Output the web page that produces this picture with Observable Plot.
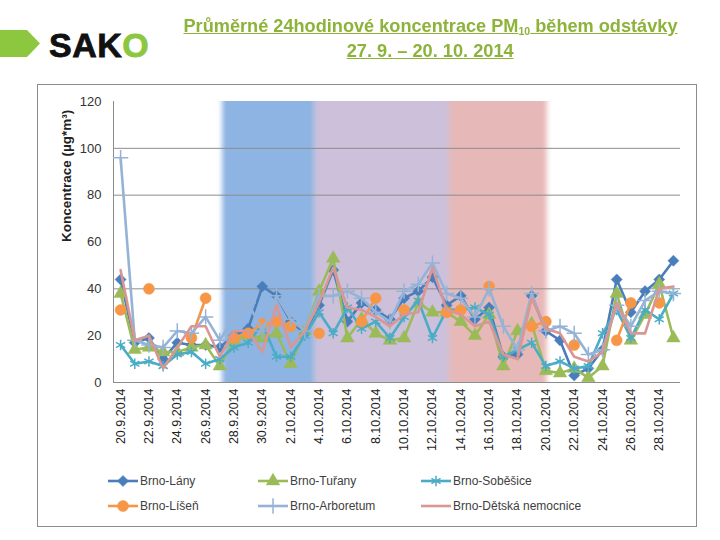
<!DOCTYPE html>
<html><head><meta charset="utf-8">
<script src="https://cdn.jsdelivr.net/npm/d3@7"></script>
<script src="https://cdn.jsdelivr.net/npm/@observablehq/plot@0.6"></script>
<style>
body{margin:0;width:720px;height:540px;position:relative;background:#fff;font-family:"Liberation Sans",Arial,sans-serif;overflow:hidden}
#logo{position:absolute;left:0;top:0}
#title{position:absolute;left:150px;width:560px;top:13px;text-align:center;color:#8db33a;font-family:"Liberation Sans Narrow","Arial Narrow","Liberation Sans",sans-serif;font-size:19px;font-weight:bold;line-height:25px}
#title .ln{display:inline-block;white-space:nowrap;text-decoration:underline;transform-origin:center}
#title sub{font-size:11px;vertical-align:-3px;line-height:0}
#frame{position:absolute;left:37px;top:84px;width:658px;height:441px;border:1px solid #8c8c8c}
#chart{position:absolute;left:0;top:0}
#legend{position:absolute;left:0;top:0;width:658px;height:441px;pointer-events:none}
.li{position:absolute;display:flex;align-items:center;font-size:12px;color:#404040;white-space:nowrap}
.li svg{display:block;margin-right:1px}
</style></head>
<body>
<svg id="logo" width="170" height="80">
  <polygon points="0,30 27,30 40,43.5 27,57 0,57" fill="#8dc63f"/>
  <text x="49" y="57" font-family="Liberation Sans, Arial, sans-serif" font-weight="bold" font-size="34" letter-spacing="0.5" fill="#111" stroke="#111" stroke-width="0.8">SAK<tspan fill="#8dc63f" stroke="#8dc63f">O</tspan></text>
</svg>
<div id="title"><span class="ln" id="t1">Průměrné 24hodinové koncentrace PM<sub>10</sub> během odstávky </span><br><span class="ln" id="t2">27. 9. – 20. 10. 2014</span></div>
<div id="frame"><div id="chart"></div><div id="legend"></div></div>
<script>
const dates = ["20.9.2014","21.9.2014","22.9.2014","23.9.2014","24.9.2014","25.9.2014","26.9.2014","27.9.2014","28.9.2014","29.9.2014","30.9.2014",
  "1.10.2014","2.10.2014","3.10.2014","4.10.2014","5.10.2014","6.10.2014","7.10.2014","8.10.2014","9.10.2014","10.10.2014",
  "11.10.2014","12.10.2014","13.10.2014","14.10.2014","15.10.2014","16.10.2014","17.10.2014","18.10.2014","19.10.2014","20.10.2014",
  "21.10.2014","22.10.2014","23.10.2014","24.10.2014","25.10.2014","26.10.2014","27.10.2014","28.10.2014","29.10.2014"];

const seriesNames = ["Brno-Lány","Brno-Tuřany","Brno-Soběšice","Brno-Líšeň","Brno-Arboretum","Brno-Dětská nemocnice"];
const lany      = [44,17,19,10,17,16,16,15,20,23,41,37,26,21,33,48,26,34,31,27,36,39,45,33,37,27,32,11,12,37,22,18,3,6,14,44,30,39,44,52];
const turany    = [38,14,15,13,13,15,16,7,18,20,19,21,8,22,39,53,19,27,21,18,19,34,30,30,26,20,29,7,22,25,5,4,6,2,7,38,18,29,42,19];
const sobesice  = [16,8,9,7,12,13,8,10,15,17,25,11,11,20,30,21,32,23,26,19,28,35,19,31,31,32,29,11,14,17,7,9,6,7,21,31,19,31,27,38];
const lisen     = [31,null,40,null,null,19,36,null,19,21,25,26,24,null,21,null,null,26,36,null,31,null,null,30,31,null,41,null,null,24,26,null,16,null,null,18,34,null,34,null];
const arboretum = [96,18,16,15,22,21,28,18,28,34,22,37,27,22,37,37,39,36,30,26,39,42,51,38,36,28,40,24,14,38,22,24,21,12,14,33,24,35,39,38];
const detska    = [48,18,20,6,15,24,24,11,22,22,13,33,15,22,34,49,32,31,28,24,29,30,49,31,29,24,26,12,10,36,23,21,11,9,13,34,21,21,40,41];
const seriesValues = [lany, turany, sobesice, lisen, arboretum, detska];
const seriesColors = ["#4a7ebb","#9bbb59","#4bacc6","#f79646","#95b3d7","#d99694"];
const seriesSymbols = ["diamond2","triangle","asterisk","circle","plus",null];

const bandStart = [7.2, 13.7, 23.2];
const bandEnd   = [13.7, 23.2, 30.1];
const bandColors = ["#8db4e2","#ccc0da","#e6b9b8"];

const yTicks = [0,20,40,60,80,100,120];
const gridValues = [40,80,100];
const yLabel = "Koncentrace (µg*m³)";

const records = [];
seriesNames.forEach((s, k) => seriesValues[k].forEach((v, i) => records.push({series: s, i, date: dates[i], value: v})));
const bands = bandStart.map((s, k) => ({start: s, end: bandEnd[k], color: bandColors[k]}));
const xTicks = dates.map((d, i) => i).filter(i => i % 2 === 0);
const yMin = yTicks[0], yMax = yTicks[yTicks.length - 1];

const marks = [
  Plot.rect(bands, {x1: "start", x2: "end", y1: () => yMin, y2: () => yMax, fill: "color"}),
  Plot.ruleY(gridValues, {stroke: "#8c8c8c", strokeWidth: 1}),
  Plot.ruleY([yMin], {stroke: "#8c8c8c", strokeWidth: 1}),
  Plot.ruleX([-0.5], {y1: yMin, y2: yMax, stroke: "#8c8c8c", strokeWidth: 1}),
  Plot.axisY({ticks: yTicks, tickSize: 0, tickPadding: 12, label: null, fontSize: 13, fill: "#333"}),
  Plot.axisX({ticks: xTicks, tickFormat: i => dates[i], tickRotate: -90, tickSize: 0, tickPadding: 6, label: null, fontSize: 12.5, fill: "#222"}),
  Plot.text([yLabel], {frameAnchor: "left", rotate: -90, dx: -47, fontWeight: "bold", fontSize: 13.5, fill: "#222"})
];
seriesNames.forEach((s, k) => {
  const data = records.filter(d => d.series === s);
  marks.push(Plot.line(data, {x: "i", y: "value", stroke: seriesColors[k], strokeWidth: 2.6, strokeLinejoin: "round"}));
  const sym = seriesSymbols[k];
  if (sym) {
    const strokeSym = sym === "asterisk" || sym === "plus";
    marks.push(Plot.dot(data.filter(d => d.value != null), {
      x: "i", y: "value", symbol: () => sym,
      r: sym === "circle" ? 5.5 : 5,
      fill: strokeSym ? "none" : seriesColors[k],
      stroke: seriesColors[k], strokeWidth: strokeSym ? 1.5 : 0.5
    }));
  }
});

const chart = Plot.plot({
  width: 658, height: 380,
  marginLeft: 75, marginRight: 16, marginTop: 16, marginBottom: 83,
  x: {type: "linear", domain: [-0.5, dates.length - 0.5]},
  y: {domain: [yMin, yMax]},
  symbol: {type: "identity"},
  style: {fontFamily: "Liberation Sans, Arial, sans-serif", background: "transparent"},
  marks
});
document.getElementById("chart").appendChild(chart);

// soft band edges
const ns = "http://www.w3.org/2000/svg";
const defs = document.createElementNS(ns, "defs");
defs.innerHTML = '<filter id="hblur" x="-5%" y="0" width="110%" height="100%"><feGaussianBlur stdDeviation="2.5 0"/></filter>';
chart.insertBefore(defs, chart.firstChild);
const rg = chart.querySelector('g[aria-label="rect"]');
if (rg) rg.setAttribute("filter", "url(#hblur)");

// fit title lines to the reference widths (narrow heading font)
[["t1", 494], ["t2", 167]].forEach(([id, w]) => {
  const el = document.getElementById(id);
  const cur = el.getBoundingClientRect().width;
  if (cur > 0) el.style.transform = "scaleX(" + (w / cur) + ")";
});

// legend
const legend = document.getElementById("legend");
const colX = [69, 219, 382], rowY = [396, 421];
seriesNames.forEach((s, k) => {
  const div = document.createElement("div");
  div.className = "li";
  div.style.left = colX[k % 3] + "px";
  div.style.top = (rowY[Math.floor(k / 3)] - 8) + "px";
  const sv = d3.create("svg").attr("width", 32).attr("height", 16);
  sv.append("line").attr("x1", 1).attr("x2", 31).attr("y1", 8).attr("y2", 8).attr("stroke", seriesColors[k]).attr("stroke-width", 2.6);
  const sym = seriesSymbols[k];
  if (sym) {
    const map = {diamond2: d3.symbolDiamond2, triangle: d3.symbolTriangle, asterisk: d3.symbolAsterisk, circle: d3.symbolCircle, plus: d3.symbolPlus};
    const strokeSym = sym === "asterisk" || sym === "plus";
    const r = sym === "circle" ? 5.5 : 5;
    sv.append("path").attr("transform", "translate(16,8)")
      .attr("d", d3.symbol(map[sym], Math.PI * r * r)())
      .attr("fill", strokeSym ? "none" : seriesColors[k])
      .attr("stroke", seriesColors[k]).attr("stroke-width", strokeSym ? 1.5 : 0.5);
  }
  div.appendChild(sv.node());
  const t = document.createElement("span");
  t.textContent = s;
  div.appendChild(t);
  legend.appendChild(div);
});
</script>
</body></html>
